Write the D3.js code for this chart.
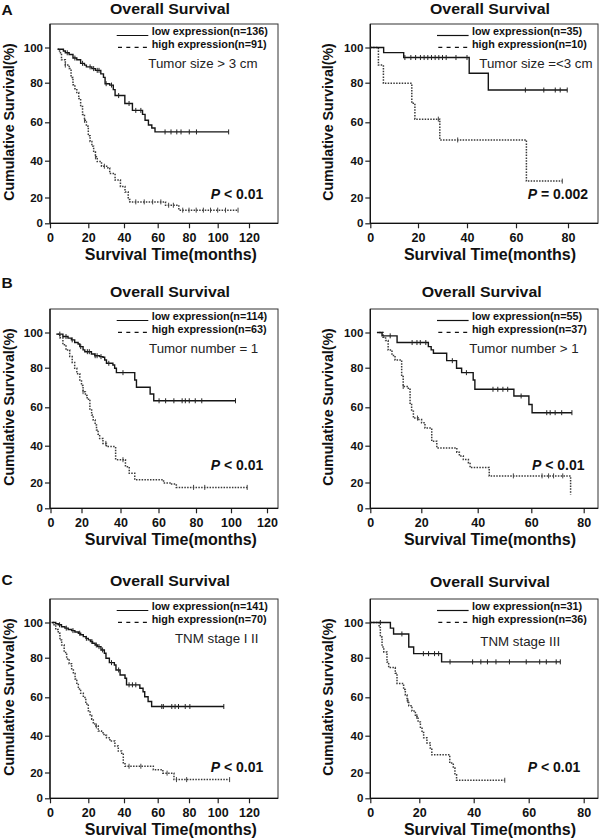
<!DOCTYPE html>
<html><head><meta charset="utf-8">
<script src="https://cdn.jsdelivr.net/npm/d3@7"></script>
<style>body{margin:0;background:#fff}svg{display:block}</style>
</head><body>
<svg id="c" width="600" height="839"></svg>
<script>
// ---------------- DATA ----------------
const panelLetters = ["A", "B", "C"];
const chartTitle = "Overall Survival";
const xAxisLabel = "Survival Time(months)";
const yAxisLabel = "Cumulative Survival(%)";
const yTicks = [0, 20, 40, 60, 80, 100];
const xTicksLeft = [0, 20, 40, 60, 80, 100, 120];
const xTicksRight = [0, 20, 40, 60, 80];
const subgroupLabels = ["Tumor size > 3 cm", "Tumor size =<3 cm", "Tumor number = 1", "Tumor number > 1", "TNM stage I II", "TNM stage III"];
const lowN = [136, 35, 114, 55, 141, 31];
const highN = [91, 10, 63, 37, 70, 36];
const pValues = ["< 0.01", "= 0.002", "< 0.01", "< 0.01", "< 0.01", "< 0.01"];

// survival steps [month, %]
const lowA1 = [[4,99],[7,98],[8,97],[10,96],[12,94],[14,93],[16,91],[18,90],[19,89],[22,88],[24,87],[27,85],[28.5,83],[29.4,79.5],[32,78.8],[34,76.5],[35,73.5],[40.5,69.5],[45,66],[51,64],[52.5,61],[54.5,58.6],[56.5,57],[58.4,55],[107,55]];
const highA1 = [[4,99],[5,97],[6,93],[8,90],[10,88],[11,83],[12,79],[13,77],[14,75],[15,72],[16,68],[17,64],[18,61],[19,58],[20,53],[21,50],[22,47.5],[23,44.5],[24,42],[25,39.5],[27.4,37],[31,36],[32,33],[35,29.5],[38,26],[40.6,23],[42.5,18.5],[43.5,16.6],[65,14],[73.5,10.2],[113,10.2]];
const lowA2 = [[0,100],[5.6,97.1],[14,94.3],[40.9,85.4],[48.7,76.3],[79.7,76.3]];
const highA2 = [[0,100],[3.4,90],[5.5,79.7],[17.4,69.6],[18.7,61.6],[28.9,50.8],[64,28.9],[77.8,28.9]];
const lowB1 = [[3.7,99.1],[8,97.7],[11.3,96.8],[13.5,95.8],[15.6,94.3],[17.8,93.5],[18.9,92],[20.8,90.1],[21.7,89.1],[25.1,87.8],[26.8,86.8],[29.3,86.3],[31,85.9],[31.9,84.4],[32.8,82.5],[36.1,81.5],[37,79.7],[37.9,77.5],[47.5,73.8],[48.4,70.1],[55.6,66.7],[57.5,63.3],[102.5,63.3]];
const highB1 = [[4.5,99],[6,97],[8,93],[10,90],[12.4,86.3],[14,83],[15.6,79.7],[17,77],[18.9,73.8],[20,71],[20.8,67.9],[22,66],[22.9,64.1],[24.3,58.6],[25.2,56],[26,53.4],[27,50.8],[27.7,48.2],[28.5,46],[29.3,43.8],[31,41.2],[32.8,39.5],[37.5,32.4],[42.6,28.6],[44.6,25],[47.5,21.5],[62.7,19.7],[67,18.8],[69.5,16.2],[109,16.2]];
const lowB2 = [[2.6,100],[4.6,98.1],[10.5,94.3],[22.5,92],[23.5,90.1],[24.3,88.2],[29,84],[32.5,79.7],[34.3,77.5],[38.4,73.8],[39,69.1],[53.5,65.7],[59.1,61.4],[60.3,57.2],[75.5,57.2]];
const highB2 = [[3.5,100],[5,97.3],[6,95.5],[7,90],[8.5,87],[9.7,84.4],[12.3,75.5],[12.9,70.5],[14.9,69.1],[15.6,62.1],[16.2,58],[16.9,54.4],[18.8,53.6],[20.1,51.9],[21.3,49.2],[23.7,42.3],[25.5,38.8],[32.6,36.5],[33.5,34.4],[34.9,32.5],[36.7,30.8],[37.3,28.1],[44.3,23.6],[75,10.7]];
const lowC1 = [[1,100],[3,99.3],[4.3,98.7],[6,97.6],[7.8,96.8],[9.5,96],[11.3,95.4],[13,94.6],[14.8,93.9],[16,93],[17.4,92],[18.8,91],[20,90.1],[21.2,89.2],[22.4,88.2],[23.8,87.2],[25.2,86.3],[27.1,84.4],[29,82.5],[29.9,79.7],[31.8,77.5],[34.6,76.3],[35.5,73.8],[37.8,71.3],[40.6,69.6],[41.5,66.3],[49.4,64.6],[51.3,62.8],[52.3,60.3],[54.3,57.8],[56.4,55.2],[104,55.2]];
const highC1 = [[0,100],[1.7,98.7],[3,96],[4.3,93.9],[5.2,90],[6.1,87.2],[7.4,83],[8.7,79.4],[10,77],[11.3,74.4],[12.2,72],[13.1,69.3],[14,66.5],[14.8,64.2],[16,62],[17.4,59.9],[18.7,56.5],[20,53],[21,50.5],[21.9,48.6],[22.8,46.8],[23.7,45.1],[25.6,42.4],[27.4,41.6],[28.8,40.2],[30.2,38.9],[32.1,37.1],[34.9,34.4],[36.8,31.7],[38.7,29.9],[39.6,25.3],[40.6,23.4],[56.4,23.4],[57.4,21.5],[62.3,21.5],[63.3,19.5],[69.3,19.5],[70.4,14.5],[107.6,14.5]];
const lowC2 = [[0,100],[8.2,96.8],[9.5,93.5],[15.7,86.1],[17.7,82.3],[28.2,77.9],[71.5,77.9]];
const highC2 = [[0,100],[3.6,97.2],[4.1,91.7],[4.8,86.1],[5.5,83.3],[6.8,77.8],[7.5,75],[10.2,72.2],[10.9,67],[13.6,63.9],[14.3,61.1],[15,58.3],[15.7,55.6],[17,52.8],[18.4,50],[19.5,47.2],[20.4,44.4],[21,41.7],[21.6,38.9],[22.8,36.1],[24,33.3],[24.6,29.6],[31.2,25.1],[32.5,22.4],[33.1,18.3],[33.7,14],[51.3,14]];

// censored times (months)
const lowCensA1 = [9,13,17,21,23,25,26,30,33,37,43,47,50,64.7,68.5,72.2,74.9,80.2,85.2,107];
const highCensA1 = [8,18,24,29,47,52,57,62,67,70,76,80,85,90,95,100,105,113];
const lowCensA2 = [14.5,17,19,21,22.5,24,25.5,27,28.5,30,31.5,35.5,40,63.6,70.7,75.1,77,79.7];
const highCensA2 = [28.3,36.2,77.8];
const lowCensB1 = [6,10,14,19.5,23,24,27,28,30,34,41.3,60.3,63.8,68.2,72.6,74.3,76.4,79.6,83.3,102.5];
const highCensB1 = [20.8,32.5,41.3,78.7,85,109];
const lowCensB2 = [7.8,16.4,18.3,19.6,21.6,31,36,45.7,47.5,49.4,51.2,56.2,65.9,67.2,69.1,71.6,75.5];
const highCensB2 = [12.9,18.5,53.3,64.1,66.6,68.5,72];
const lowCensC1 = [5,8.5,12,15.5,19,22,24.5,26,28,33,37,43,45,47,62.6,63.6,69,71.1,73.3,77.6,80.6,103.9];
const highCensC1 = [24.5,43,50,66,72,78.5,107.6];
const lowCensC2 = [4.1,12.9,21.5,23.4,25.6,27.1,31.3,39.6,42.6,45,48.1,53,59.1,64,66.4,70,71.5];
const highCensC2 = [15.3,19,51.3];

// ---------------- LAYOUT ----------------
const FONT = "'Liberation Sans', Arial, Helvetica, sans-serif";
const rowDy = [0, 285, 575];
const colFrame = [[50, 278], [370.3, 598]];
const yRangeBase = [223.3, 197.5, 160.7, 122.3, 82.7, 47.5];
const frameTopBase = 24;
const xRanges = [
  [50, 88.3, 124, 157.7, 189, 217.7, 249],
  [370.3, 418, 467, 516, 568],
  [50.5, 81.5, 120.5, 158.5, 196, 231, 267],
  [370.3, 421.3, 477.7, 531.3, 583.7],
  [50, 88.3, 124, 157.7, 189, 217.7, 249],
  [370.3, 419.3, 473.7, 528.7, 583.7]
];
const titleX = [170, 490, 170, 481.7, 170, 490];
const titleY = [13.5, 13.5, 296.5, 296.5, 586, 587];
const subPos = [[148.3, 68.3], [479.3, 68.3], [149, 353.3], [469.3, 353.3], [175, 643.3], [480.3, 646]];
const pPos = [[210.7, 199], [527.7, 199], [210.7, 470], [532, 470], [210.7, 771.7], [527.7, 771.7]];
const letterPos = [[1.5, 14.5], [1.5, 288], [1.5, 585]];

const lows = [lowA1, lowA2, lowB1, lowB2, lowC1, lowC2];
const highs = [highA1, highA2, highB1, highB2, highC1, highC2];
const lowCens = [lowCensA1, lowCensA2, lowCensB1, lowCensB2, lowCensC1, lowCensC2];
const highCens = [highCensA1, highCensA2, highCensB1, highCensB2, highCensC1, highCensC2];

const svg = d3.select("#c");
svg.append("rect").attr("width", 600).attr("height", 839).attr("fill", "#fff");

function survAt(curve, t) {
  let s = curve[0][1];
  for (const [tt, ss] of curve) if (tt <= t) s = ss;
  return s;
}

panelLetters.forEach((L, r) => {
  svg.append("text").attr("x", letterPos[r][0]).attr("y", letterPos[r][1])
    .attr("font-family", FONT).attr("font-size", 15.5).attr("font-weight", "bold")
    .attr("fill", "#111").text(L);
});

for (let p = 0; p < 6; p++) {
  const row = Math.floor(p / 2), col = p % 2;
  const dy = rowDy[row];
  const [fl, fr] = colFrame[col];
  const xt = col === 0 ? xTicksLeft : xTicksRight;
  const x = d3.scaleLinear().domain(xt).range(xRanges[p]);
  const y = d3.scaleLinear().domain(yTicks).range(yRangeBase.map(v => v + dy));
  const axisY = y(0);
  const top = frameTopBase + dy;
  const g = svg.append("g");

  // frame
  g.append("rect").attr("x", fl).attr("y", top).attr("width", fr - fl).attr("height", axisY - top)
    .attr("fill", "none").attr("stroke", "#333").attr("stroke-width", 1);

  // axes
  const ax = g.append("g").attr("transform", `translate(0,${axisY})`)
    .call(d3.axisBottom(x).tickValues(xt).tickSize(5).tickSizeOuter(0).tickPadding(5).tickFormat(d3.format("d")));
  ax.select(".domain").remove();
  const ay = g.append("g").attr("transform", `translate(${fl},0)`)
    .call(d3.axisLeft(y).tickValues(yTicks).tickSize(5).tickSizeOuter(0).tickPadding(2).tickFormat(d3.format("d")));
  ay.select(".domain").remove();
  [ax, ay].forEach(a => {
    a.selectAll("line").attr("stroke", "#222").attr("stroke-width", 1.2);
    a.selectAll("text").attr("font-family", FONT).attr("font-weight", "bold").attr("fill", "#111");
  });
  ax.selectAll("text").attr("font-size", 12.5);
  ay.selectAll("text").attr("font-size", 11.5);
  g.append("line").attr("x1", fl).attr("x2", fl).attr("y1", top).attr("y2", axisY).attr("stroke", "#111").attr("stroke-width", 1.3);
  g.append("line").attr("x1", fl).attr("x2", fr).attr("y1", axisY).attr("y2", axisY).attr("stroke", "#111").attr("stroke-width", 1.3);

  // curves
  const line = d3.line().x(d => x(d[0])).y(d => y(d[1])).curve(d3.curveStepAfter);
  g.append("path").attr("d", line(highs[p])).attr("fill", "none").attr("stroke", "#3a3a3a")
    .attr("stroke-width", 1.5).attr("stroke-dasharray", "1.5,1.3");
  g.append("path").attr("d", line(lows[p])).attr("fill", "none").attr("stroke", "#151515")
    .attr("stroke-width", 1.4);
  // censor marks
  g.selectAll(".cl").data(lowCens[p]).join("line")
    .attr("x1", d => x(d)).attr("x2", d => x(d))
    .attr("y1", d => y(survAt(lows[p], d)) - 2.5).attr("y2", d => y(survAt(lows[p], d)) + 2.5)
    .attr("stroke", "#222").attr("stroke-width", 1);
  g.selectAll(".ch").data(highCens[p]).join("line")
    .attr("x1", d => x(d)).attr("x2", d => x(d))
    .attr("y1", d => y(survAt(highs[p], d)) - 2.5).attr("y2", d => y(survAt(highs[p], d)) + 2.5)
    .attr("stroke", "#444").attr("stroke-width", 1);

  // legend
  const lb1 = 35 + dy, lb2 = 48.3 + dy;
  g.append("line").attr("x1", fl + 66.7).attr("x2", fl + 98.3).attr("y1", lb1 + 0.5).attr("y2", lb1 + 0.5)
    .attr("stroke", "#111").attr("stroke-width", 1.2);
  g.append("line").attr("x1", fl + 68).attr("x2", fl + 98.3).attr("y1", lb2 - 1).attr("y2", lb2 - 1)
    .attr("stroke", "#111").attr("stroke-width", 1.2).attr("stroke-dasharray", "4,4.3");
  g.append("text").attr("x", fl + 101.7).attr("y", lb1).attr("font-family", FONT).attr("font-size", 10.8)
    .attr("font-weight", "bold").attr("fill", "#111").text(`low expression(n=${lowN[p]})`);
  g.append("text").attr("x", fl + 101.7).attr("y", lb2).attr("font-family", FONT).attr("font-size", 10.8)
    .attr("font-weight", "bold").attr("fill", "#111").text(`high expression(n=${highN[p]})`);

  // subgroup label
  g.append("text").attr("x", subPos[p][0]).attr("y", subPos[p][1]).attr("font-family", FONT)
    .attr("font-size", 13.3).attr("fill", "#222").text(subgroupLabels[p]);

  // p-value
  const pt = g.append("text").attr("x", pPos[p][0]).attr("y", pPos[p][1]).attr("font-family", FONT)
    .attr("font-size", 14).attr("font-weight", "bold").attr("fill", "#111");
  pt.append("tspan").attr("font-style", "italic").text("P");
  pt.append("tspan").text(" " + pValues[p]);

  // title
  g.append("text").attr("x", titleX[p]).attr("y", titleY[p]).attr("text-anchor", "middle")
    .attr("font-family", FONT).attr("font-size", 14).attr("font-weight", "bold").attr("fill", "#111")
    .attr("textLength", 120).attr("lengthAdjust", "spacingAndGlyphs").text(chartTitle);

  // axis labels
  const xc = col === 0 ? 170.8 : 490;
  g.append("text").attr("x", xc).attr("y", axisY + 36.5).attr("text-anchor", "middle")
    .attr("font-family", FONT).attr("font-size", 16).attr("font-weight", "bold").attr("fill", "#111").text(xAxisLabel);
  const yc = col === 0 ? 8.5 : 328.3;
  g.append("text").attr("transform", `translate(${yc},${122 + dy}) rotate(-90)`)
    .attr("text-anchor", "middle").attr("dominant-baseline", "central")
    .attr("font-family", FONT).attr("font-size", 14.2).attr("font-weight", "bold").attr("fill", "#111").text(yAxisLabel);
}
</script>
</body></html>
